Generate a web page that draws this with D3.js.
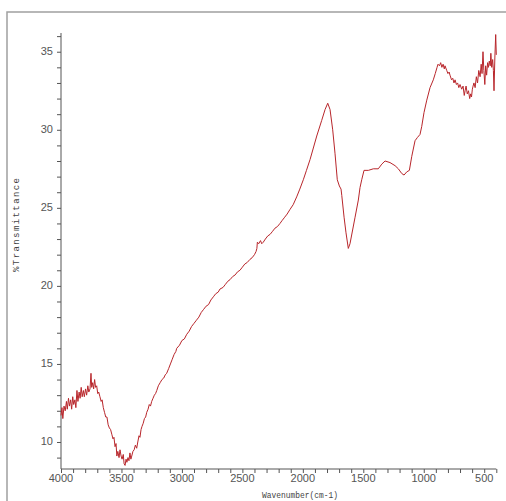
<!DOCTYPE html>
<html><head><meta charset="utf-8">
<script src="https://cdn.jsdelivr.net/npm/d3@7"></script>
<style>html,body{margin:0;padding:0;background:#fff;overflow:hidden}</style>
</head><body>
<svg id="c" width="506" height="501"></svg>
<script>
// Wavenumber (cm-1) and %Transmittance
const wavenumber = [
4000,3992,3985,3975,3965,3955,3948,3938,3930,3920,3912,3903,3895,3885,3877,3868,3860,3850,3842,3833,
3825,3815,3807,3797,3788,3778,3770,3760,3752,3746,3738,3730,3722,3714,3705,3696,3688,3678,3668,3660,
3650,3640,3630,3620,3610,3600,3590,3580,3570,3562,3553,3545,3538,3530,3520,3512,3503,3495,3485,3478,
3470,3462,3455,3446,3438,3430,3422,3415,3405,3395,3385,3374,3365,3355,3347,3338,3330,3320,3310,3300,
3291,3280,3270,3260,3250,3239,3228,3218,3208,3195,3180,3165,3150,3138,3126,3110,3095,3080,3065,3050,
3043,3020,3000,2980,2960,2940,2920,2900,2880,2860,2840,2820,2800,2780,2760,2740,2720,2700,2685,2660,
2640,2620,2602,2580,2560,2540,2520,2500,2480,2460,2437,2420,2400,2387,2380,2376,2365,2350,2340,2327,
2310,2290,2271,2250,2230,2210,2189,2170,2150,2130,2106,2080,2051,2025,1996,1970,1940,1885,1844,1816,
1794,1775,1753,1734,1715,1698,1684,1678,1659,1643,1624,1610,1568,1541,1527,1513,1494,1458,1417,1376,
1347,1320,1279,1237,1210,1182,1163,1141,1119,1099,1072,1053,1031,1017,998,975,948,921,905,890,
882,870,860,850,840,830,824,810,800,790,783,770,760,750,741,730,720,710,700,686,
675,665,658,650,640,630,620,612,605,598,592,585,575,565,555,545,534,525,518,510,
503,495,488,480,472,465,458,450,445,438,430,424,419,412,405,400];
const transmittance = [
11.7,12.2,11.5,12.3,12.0,12.6,12.1,12.8,12.3,12.7,12.1,12.9,12.4,12.7,12.2,13.3,12.6,13.2,12.8,13.5,
12.9,13.3,12.9,13.4,13.0,13.6,13.2,13.4,14.4,13.5,13.8,13.4,14.0,13.5,13.6,13.1,13.2,12.9,12.6,12.7,
12.2,11.9,11.6,11.6,11.1,10.9,10.8,10.5,10.2,10.3,9.7,9.9,9.1,9.4,9.0,9.5,9.1,8.9,9.2,8.6,
8.5,8.9,8.7,9.0,8.8,9.3,8.9,9.1,9.4,9.5,9.8,9.6,10.0,10.4,10.3,10.8,11.0,11.2,11.5,11.6,
11.9,12.1,12.4,12.3,12.6,12.8,13.0,13.1,13.3,13.6,13.8,14.0,14.1,14.3,14.4,14.7,15.0,15.3,15.6,15.8,
16.0,16.2,16.5,16.6,16.9,17.1,17.4,17.6,17.8,18.0,18.3,18.5,18.7,18.8,19.1,19.3,19.5,19.6,19.8,19.9,
20.1,20.3,20.4,20.6,20.7,20.9,21.0,21.2,21.4,21.5,21.7,21.8,22.0,22.2,22.4,22.8,22.7,22.9,22.7,22.8,
23.0,23.2,23.3,23.5,23.7,23.8,24.0,24.2,24.4,24.6,24.9,25.2,25.7,26.2,26.8,27.4,28.1,29.6,30.6,31.3,
31.7,31.3,30.0,28.5,26.8,26.4,26.2,25.8,24.4,23.4,22.4,22.7,24.4,25.5,26.3,26.8,27.4,27.4,27.5,27.5,
27.8,28.0,27.9,27.7,27.5,27.2,27.1,27.3,27.4,28.3,29.3,29.5,29.7,30.2,31.1,31.9,32.7,33.2,33.6,34.0,
34.2,34.1,34.3,34.0,34.2,33.9,34.1,33.8,33.6,33.7,33.5,33.2,33.3,33.0,33.2,32.9,33.0,32.7,32.9,32.6,
32.8,32.2,32.5,32.8,32.3,32.5,32.0,32.3,32.1,32.6,32.8,33.0,32.7,33.4,33.0,33.8,33.4,34.2,33.6,35.0,
33.8,32.9,34.1,33.5,34.3,34.0,34.4,34.1,34.9,34.0,34.5,33.8,32.5,34.6,36.1,34.8];
const xTickLabels = [4000,3500,3000,2500,2000,1500,1000,500];
const yTickLabels = [10,15,20,25,30,35];

const svg = d3.select("#c");
// outer frame
svg.append("rect").attr("x",7).attr("y",12).attr("width",520).attr("height",520)
  .attr("fill","none").attr("stroke","#a0a0a0").attr("stroke-width",1.5);

const x = d3.scaleLinear().domain([4000,400]).range([61,496.3]);
const y = d3.scaleLinear().domain([8.27,36.2]).range([469,33]);

const axisCol = "#555";
// x axis
const gx = svg.append("g").attr("transform","translate(0,469)");
gx.call(d3.axisBottom(x).tickValues(d3.range(4000,399,-100)).tickSize(4).tickFormat(""));
gx.call(g=>g.select(".domain").attr("d","M61,0H496.3"));
gx.selectAll("line").attr("stroke",axisCol);
gx.select(".domain").attr("stroke",axisCol);
gx.selectAll(".lbl").data(xTickLabels).join("text").attr("class","lbl")
  .attr("x",d=>x(d)).attr("y",13).attr("text-anchor","middle")
  .attr("font-family","'Liberation Sans Narrow','Arial Narrow',sans-serif").attr("font-size",11)
  .attr("fill","#555").text(d=>d);

// y axis
const gy = svg.append("g").attr("transform","translate(61,0)");
gy.call(d3.axisLeft(y).tickValues(d3.range(9,37,1)).tickSize(4).tickFormat(""));
gy.call(g=>g.select(".domain").attr("d","M0,33V469"));
gy.selectAll("line").attr("stroke",axisCol);
gy.select(".domain").attr("stroke",axisCol);
gy.selectAll(".lbl").data(yTickLabels).join("text").attr("class","lbl")
  .attr("x",-8).attr("y",d=>y(d)+3.5).attr("text-anchor","end")
  .attr("font-family","'Liberation Sans Narrow','Arial Narrow',sans-serif").attr("font-size",11)
  .attr("fill","#555").text(d=>d);

// spectrum
const pts = wavenumber.map((w,i)=>[w,transmittance[i]]);
svg.append("path").datum(pts)
  .attr("d",d3.line().x(d=>x(d[0])).y(d=>y(d[1])))
  .attr("fill","none").attr("stroke","#b8262b").attr("stroke-width",1);

// titles
svg.append("text").attr("transform","translate(19,225) rotate(-90)")
  .attr("text-anchor","middle").attr("font-family","'Liberation Mono',monospace")
  .attr("font-size",9).attr("fill","#444").attr("textLength",94).attr("lengthAdjust","spacing")
  .text("%Transmittance");
svg.append("text").attr("x",300).attr("y",498).attr("text-anchor","middle")
  .attr("font-family","'Liberation Mono',monospace")
  .attr("font-size",9).attr("fill","#444").attr("textLength",76).attr("lengthAdjust","spacingAndGlyphs")
  .text("Wavenumber(cm-1)");
</script>
</body></html>
